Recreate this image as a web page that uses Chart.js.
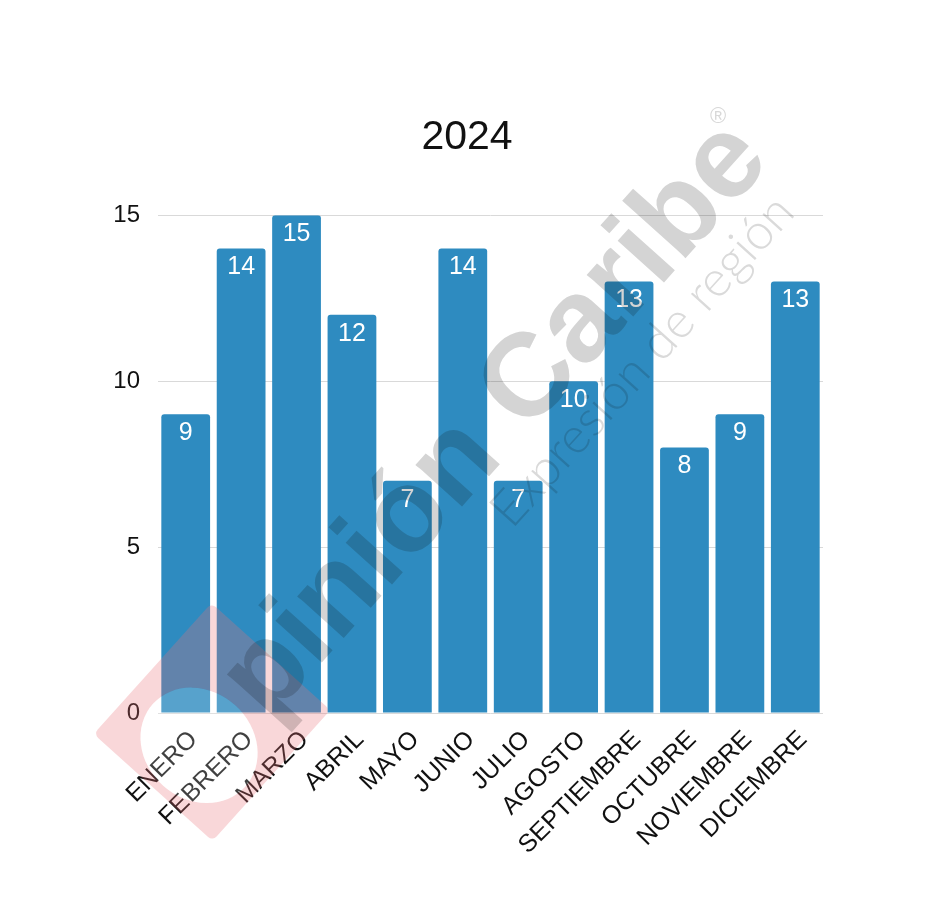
<!DOCTYPE html>
<html>
<head>
<meta charset="utf-8">
<script src="https://cdn.jsdelivr.net/npm/chart.js@4"></script>
<style>
  html, body { margin: 0; padding: 0; background: #fff; }
  #wrap { width: 934px; height: 901px; }
</style>
</head>
<body>
<div id="wrap"><canvas id="chart" width="934" height="901"></canvas></div>
<script>
const months = ['ENERO', 'FEBRERO', 'MARZO', 'ABRIL', 'MAYO', 'JUNIO', 'JULIO', 'AGOSTO', 'SEPTIEMBRE', 'OCTUBRE', 'NOVIEMBRE', 'DICIEMBRE'];
const counts = [9, 14, 15, 12, 7, 14, 7, 10, 13, 8, 9, 13];
const yTicks = [0, 5, 10, 15];
const chartTitle = '2024';

const FONT = "'Liberation Sans', Arial, sans-serif";

// white number near the top of each bar
const barValues = {
  id: 'barValues',
  afterDatasetsDraw(chart) {
    const ctx = chart.ctx;
    const meta = chart.getDatasetMeta(0);
    ctx.save();
    ctx.fillStyle = '#ffffff';
    ctx.font = '25px ' + FONT;
    ctx.textAlign = 'center';
    ctx.textBaseline = 'middle';
    meta.data.forEach((bar, i) => {
      ctx.fillText(chart.data.datasets[0].data[i], bar.x, bar.y + 19);
    });
    ctx.restore();
  }
};

// the newspaper logo stamped over the picture
const watermark = {
  id: 'watermark',
  afterDraw(chart) {
    const ctx = chart.ctx;
    const ang = -48 * Math.PI / 180;

    // pink square with the "O" cut out
    ctx.save();
    ctx.translate(212, 722);
    ctx.rotate(ang);
    ctx.fillStyle = 'rgba(232, 110, 120, 0.28)';
    ctx.beginPath();
    ctx.roundRect(-88, -80, 176, 160, 6);
    ctx.ellipse(-26, 6, 54, 62, 0, 0, Math.PI * 2);
    ctx.fill('evenodd');
    ctx.fillStyle = 'rgba(255, 255, 255, 0.2)';
    ctx.beginPath();
    ctx.ellipse(-26, 6, 54, 62, 0, 0, Math.PI * 2);
    ctx.fill();
    ctx.restore();

    ctx.save();
    ctx.globalCompositeOperation = 'multiply';
    ctx.fillStyle = '#d4d4d4';
    ctx.translate(268, 722);
    ctx.rotate(ang);
    ctx.font = 'bold 118px ' + FONT;
    ctx.fillText('pinión Caribe', 0, 0);
    ctx.restore();

    ctx.save();
    ctx.globalCompositeOperation = 'multiply';
    ctx.fillStyle = '#dadada';
    ctx.translate(512, 530);
    ctx.rotate(ang);
    ctx.font = '300 50px Lato, ' + FONT;
    ctx.fillText('Expresión de región', 0, 0);
    ctx.restore();

    ctx.save();
    ctx.globalCompositeOperation = 'multiply';
    ctx.fillStyle = '#d8d8d8';
    ctx.font = '22px ' + FONT;
    ctx.textAlign = 'center';
    ctx.textBaseline = 'middle';
    ctx.fillText('®', 718, 117);
    ctx.restore();
  }
};

new Chart(document.getElementById('chart'), {
  type: 'bar',
  data: {
    labels: months,
    datasets: [{
      data: counts,
      backgroundColor: '#2e8bc0',
      borderRadius: { topLeft: 3, topRight: 3 },
      borderSkipped: 'bottom',
      barPercentage: 0.88,
      categoryPercentage: 1.0
    }]
  },
  options: {
    responsive: false,
    animation: false,
    layout: { padding: { top: 113, right: 111, bottom: 0, left: 111 } },
    plugins: {
      legend: { display: false },
      tooltip: { enabled: false },
      title: {
        display: true,
        text: chartTitle,
        color: '#111',
        font: { family: FONT, size: 41, weight: 'normal' },
        padding: { top: 0, bottom: 53 }
      }
    },
    scales: {
      x: {
        grid: { display: false },
        border: { display: false },
        ticks: {
          autoSkip: false,
          maxRotation: 45,
          minRotation: 45,
          color: '#111',
          padding: 4,
          labelOffset: 8,
          font: { family: FONT, size: 25 }
        },
        afterFit(scale) { scale.height = 188; }
      },
      y: {
        min: 0,
        max: 15,
        afterBuildTicks(scale) { scale.ticks = yTicks.map(v => ({ value: v })); },
        grid: { color: '#d9d9d9', drawTicks: false },
        border: { display: false },
        ticks: {
          color: '#111',
          padding: 18,
          font: { family: FONT, size: 24 }
        },
        afterFit(scale) { scale.width = 47; }
      }
    }
  },
  plugins: [barValues, watermark]
});
</script>
</body>
</html>
